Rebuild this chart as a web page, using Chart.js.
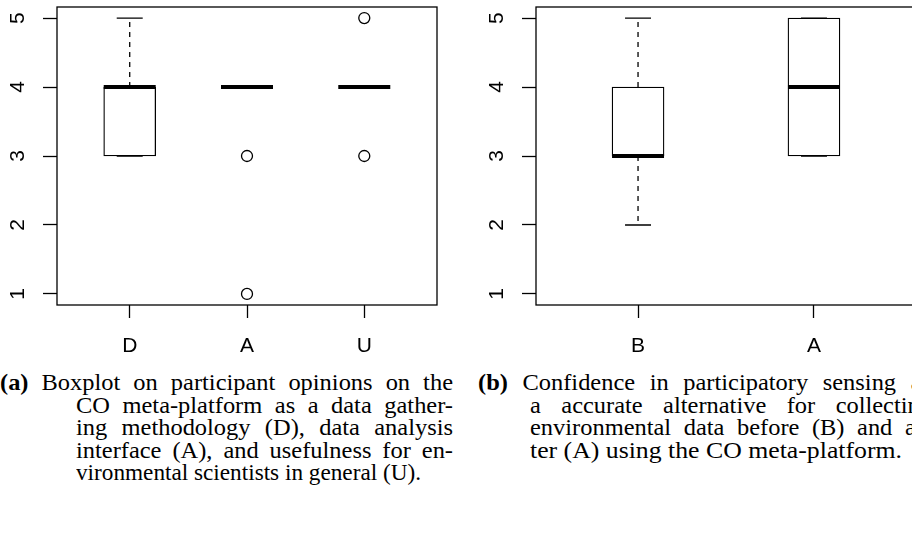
<!DOCTYPE html>
<html>
<head>
<meta charset="utf-8">
<script src="https://cdn.jsdelivr.net/npm/chart.js@4.4.0/dist/chart.umd.min.js"></script>
<style>
  html, body { margin: 0; padding: 0; background: #fff; }
  body { width: 912px; height: 533px; overflow: hidden; position: relative; }
  .plot { position: absolute; top: 0; width: 456px; height: 365px; }
  .cap span { position: absolute; font-family: "Liberation Serif", "Times New Roman", serif;
              font-size: 23.5px; line-height: 22.5px; color: #000; white-space: nowrap;
              transform-origin: 0 0; }
  .cap b { font-weight: bold; }
</style>
</head>
<body>
<div class="plot" style="left:0"><canvas id="left"></canvas></div>
<div class="plot" style="left:479px"><canvas id="right"></canvas></div>

<!-- caption lines; data-j = justified to the given width -->
<div class="cap">
  <span style="left:0; top:371px" data-w="453" data-j="1"><b>(a)</b> Boxplot on participant opinions on the</span>
  <span style="left:76px; top:393.5px" data-w="377" data-j="1">CO meta-platform as a data gather-</span>
  <span style="left:76px; top:416px" data-w="377" data-j="1">ing methodology (D), data analysis</span>
  <span style="left:76px; top:438.5px" data-w="377" data-j="1">interface (A), and usefulness for en-</span>
  <span style="left:76px; top:461px" data-w="345">vironmental scientists in general (U).</span>

  <span style="left:478px; top:371px" data-w="453" data-j="1"><b>(b)</b> Confidence in participatory sensing as</span>
  <span style="left:530px; top:393.5px" data-w="402" data-j="1">a accurate alternative for collecting</span>
  <span style="left:530px; top:416px" data-w="402" data-j="1">environmental data before (B) and af-</span>
  <span style="left:530px; top:438.5px" data-w="372">ter (A) using the CO meta-platform.</span>
</div>

<script>
// ---- data ----
const yTicks = [1, 2, 3, 4, 5];

// (a) opinions on the CO meta-platform
const leftLabels   = ['D', 'A', 'U'];
const leftLowWhisk = [3, 4, 4];
const leftQ1       = [3, 4, 4];
const leftMedian   = [4, 4, 4];
const leftQ3       = [4, 4, 4];
const leftHighWhisk= [5, 4, 4];
const leftOutliers = [[], [3, 1], [5, 3]];

// (b) confidence before / after
const rightLabels   = ['B', 'A'];
const rightLowWhisk = [2, 3];
const rightQ1       = [3, 3];
const rightMedian   = [3, 4];
const rightQ3       = [4, 5];
const rightHighWhisk= [5, 5];
const rightOutliers = [[], []];

const FONT = '"Liberation Sans", Arial, Helvetica, sans-serif';
const TICK_SIZE = 21;
const BOX_PX = 52;     // box width in pixels
const CAP_PX = 26;     // whisker cap width
const LW = 1.3;
const MAX_STRETCH = 1.04;

// fit caption lines: slight glyph stretch, then word spacing for justified lines
document.querySelectorAll('.cap span').forEach(el => {
  const w = el.getBoundingClientRect().width;
  const target = +el.dataset.w;
  if (!w) return;
  if (el.dataset.j) {
    const s = Math.min(target / w, MAX_STRETCH);
    const gaps = (el.textContent.match(/ /g) || []).length;
    const extra = (target / s - w) / Math.max(gaps, 1);
    el.style.wordSpacing = extra.toFixed(2) + 'px';
    el.style.transform = `scaleX(${s})`;
  } else {
    el.style.transform = `scaleX(${target / w})`;
  }
});

// draws whiskers, caps, medians, rotated y labels and frame
const boxplotPlugin = {
  id: 'boxplotExtras',
  afterDatasetsDraw(chart) {
    const st = chart.options.plugins.boxplotExtras;
    const { ctx, chartArea: ca } = chart;
    const xs = chart.scales.x, ys = chart.scales.y;
    ctx.save();
    ctx.strokeStyle = '#000';
    st.median.forEach((m, i) => {
      const cx = xs.getPixelForValue(i + 1);
      const yLo = ys.getPixelForValue(st.low[i]);
      const yHi = ys.getPixelForValue(st.high[i]);
      const yQ1 = ys.getPixelForValue(st.q1[i]);
      const yQ3 = ys.getPixelForValue(st.q3[i]);
      // dashed whiskers
      ctx.lineWidth = LW;
      ctx.setLineDash([5, 5]);
      ctx.beginPath();
      if (st.high[i] > st.q3[i]) { ctx.moveTo(cx, yQ3); ctx.lineTo(cx, yHi); }
      if (st.low[i] < st.q1[i])  { ctx.moveTo(cx, yQ1); ctx.lineTo(cx, yLo); }
      ctx.stroke();
      ctx.setLineDash([]);
      // caps
      ctx.beginPath();
      ctx.moveTo(cx - CAP_PX / 2, yHi); ctx.lineTo(cx + CAP_PX / 2, yHi);
      ctx.moveTo(cx - CAP_PX / 2, yLo); ctx.lineTo(cx + CAP_PX / 2, yLo);
      ctx.stroke();
      // median
      const ym = ys.getPixelForValue(m);
      ctx.lineWidth = 3.8;
      ctx.beginPath();
      ctx.moveTo(cx - BOX_PX / 2, ym); ctx.lineTo(cx + BOX_PX / 2, ym);
      ctx.stroke();
    });
    // frame
    ctx.lineWidth = LW;
    ctx.strokeRect(ca.left, ca.top, ca.right - ca.left, ca.bottom - ca.top);
    // rotated y tick labels
    ctx.fillStyle = '#000';
    ctx.font = TICK_SIZE + 'px ' + FONT;
    ctx.textAlign = 'center';
    ctx.textBaseline = 'middle';
    ys.ticks.forEach(t => {
      ctx.save();
      ctx.translate(ca.left - 39, ys.getPixelForValue(t.value));
      ctx.rotate(-Math.PI / 2);
      ctx.fillText(String(t.value), 0, 0);
      ctx.restore();
    });
    ctx.restore();
  }
};

function makeBoxplot(id, labels, low, q1, med, q3, high, outliers) {
  const n = labels.length;
  const pad = 0.04 * n;           // R style 4% axis extension
  const boxes = labels.map((_, i) => ({ x: i + 1, y: [q1[i], q3[i]] }));
  const points = [];
  outliers.forEach((arr, i) => arr.forEach(v => points.push({ x: i + 1, y: v })));

  return new Chart(document.getElementById(id), {
    type: 'bar',
    data: {
      datasets: [
        {
          type: 'bar',
          data: boxes,
          barThickness: BOX_PX,
          backgroundColor: '#fff',
          borderColor: '#000',
          borderWidth: LW,
          borderSkipped: false
        },
        {
          type: 'scatter',
          data: points,
          pointStyle: 'circle',
          pointRadius: 5.5,
          pointBackgroundColor: '#fff',
          pointBorderColor: '#000',
          pointBorderWidth: LW
        }
      ]
    },
    options: {
      responsive: true,
      maintainAspectRatio: false,
      animation: false,
      events: [],
      layout: { padding: { top: 7, right: 19, left: 0, bottom: 0 } },
      plugins: {
        legend: { display: false },
        tooltip: { enabled: false },
        boxplotExtras: { low, q1, median: med, q3, high }
      },
      scales: {
        x: {
          type: 'linear',
          min: 0.5 - pad,
          max: n + 0.5 + pad,
          offset: false,
          afterBuildTicks(scale) { scale.ticks = labels.map((_, i) => ({ value: i + 1 })); },
          afterFit(scale) { scale.height = 60; },
          border: { display: false },
          grid: { offset: false, drawOnChartArea: false, drawTicks: true, tickLength: 13, tickColor: '#000', tickWidth: LW },
          ticks: {
            color: '#000',
            font: { family: FONT, size: TICK_SIZE },
            padding: 16,
            maxRotation: 0,
            callback: v => labels[v - 1]
          }
        },
        y: {
          type: 'linear',
          min: 1 - 0.16,
          max: 5 + 0.16,
          afterBuildTicks(scale) { scale.ticks = yTicks.map(v => ({ value: v })); },
          afterFit(scale) { scale.width = 57; },
          border: { display: false },
          grid: { drawOnChartArea: false, drawTicks: true, tickLength: 14, tickColor: '#000', tickWidth: LW },
          ticks: { display: false }
        }
      }
    },
    plugins: [boxplotPlugin]
  });
}

makeBoxplot('left', leftLabels, leftLowWhisk, leftQ1, leftMedian, leftQ3, leftHighWhisk, leftOutliers);
makeBoxplot('right', rightLabels, rightLowWhisk, rightQ1, rightMedian, rightQ3, rightHighWhisk, rightOutliers);
</script>
</body>
</html>
